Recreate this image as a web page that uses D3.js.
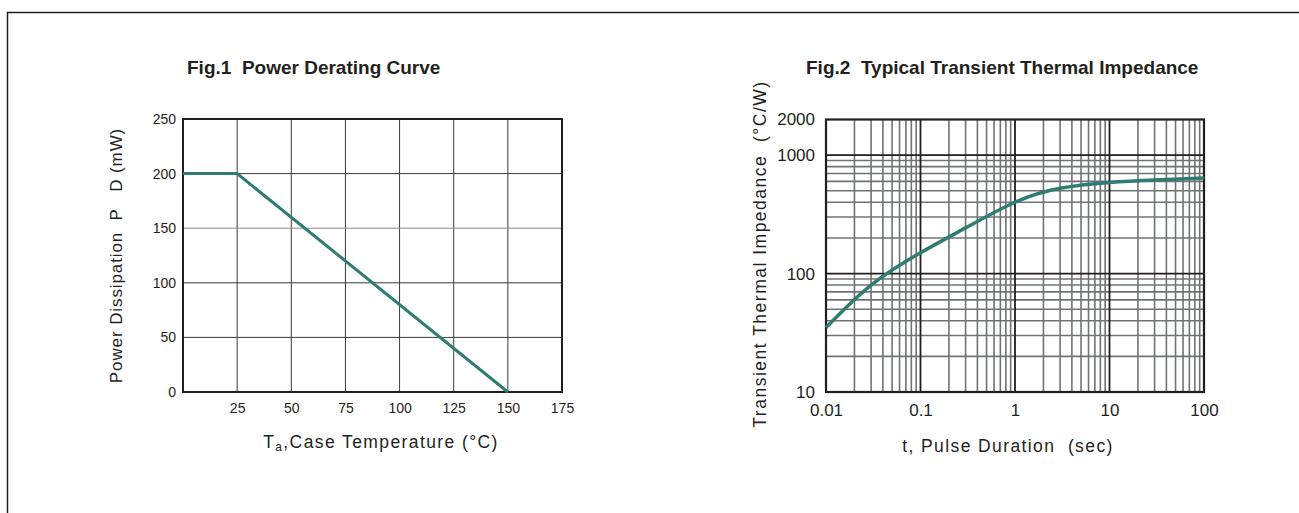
<!DOCTYPE html>
<html>
<head>
<meta charset="utf-8">
<script src="https://cdn.jsdelivr.net/npm/d3@7"></script>
<style>
  html, body { margin: 0; padding: 0; background: #fff; }
  svg { display: block; font-family: "Liberation Sans", Arial, sans-serif; }
</style>
</head>
<body>
<svg id="chart" width="1299" height="513"></svg>
<script>
// Fig.1 – power derating
const derateTemp = [0, 25, 150];
const deratePower = [200, 200, 0];
const fig1XTicks = [25, 50, 75, 100, 125, 150, 175];
const fig1YTicks = [0, 50, 100, 150, 200, 250];

// Fig.2 – transient thermal impedance
const pulseTime = [0.01, 0.03, 0.1, 0.3, 1, 3, 10, 30, 100];
const impedance = [35, 80, 150, 243, 400, 525, 588, 617, 640];
const fig2XTicks = [0.01, 0.1, 1, 10, 100];
const fig2YTicks = [10, 100, 1000, 2000];

const curveColor = '#2f7c73';
const frameColor = '#231d1c';
const textColor = '#231f20';

const svg = d3.select('#chart');

// page frame (top + left edge)
svg.append('path')
  .attr('d', 'M7.5,513 V12.5 H1299')
  .attr('fill', 'none')
  .attr('stroke', frameColor)
  .attr('stroke-width', 1.5);

// ---------- Fig.1 ----------
{
  const x = d3.scaleLinear().domain([0, 175]).range([183, 562]);
  const y = d3.scaleLinear().domain([0, 250]).range([392, 119]);
  const g = svg.append('g');

  g.append('text')
    .attr('x', 187).attr('y', 74)
    .attr('font-size', 19).attr('font-weight', 'bold')
    .attr('fill', textColor)
    .attr('xml:space', 'preserve')
    .text('Fig.1  Power Derating Curve');

  // grid
  g.selectAll('.vgrid').data(fig1XTicks.slice(0, -1)).join('line')
    .attr('x1', d => x(d)).attr('x2', d => x(d))
    .attr('y1', y(0)).attr('y2', y(250))
    .attr('stroke', '#3a3a3a').attr('stroke-width', 1);
  g.selectAll('.hgrid').data(fig1YTicks.slice(1, -1)).join('line')
    .attr('x1', x(0)).attr('x2', x(175))
    .attr('y1', d => y(d)).attr('y2', d => y(d))
    .attr('stroke', d => d === 150 ? '#8a8a8a' : '#3a3a3a').attr('stroke-width', 1);

  g.append('rect')
    .attr('x', x(0)).attr('y', y(250))
    .attr('width', x(175) - x(0)).attr('height', y(0) - y(250))
    .attr('fill', 'none').attr('stroke', frameColor).attr('stroke-width', 2);

  const xAxis = g.append('g')
    .attr('transform', `translate(0,${y(0)})`)
    .call(d3.axisBottom(x).tickValues(fig1XTicks).tickSize(0).tickPadding(11));
  xAxis.select('.domain').remove();
  xAxis.selectAll('text').attr('font-size', 14).attr('fill', textColor);

  const yAxis = g.append('g')
    .attr('transform', `translate(${x(0)},0)`)
    .call(d3.axisLeft(y).tickValues(fig1YTicks).tickSize(0).tickPadding(7));
  yAxis.select('.domain').remove();
  yAxis.selectAll('text').attr('font-size', 14).attr('fill', textColor);

  const line = d3.line().x((d, i) => x(derateTemp[i])).y(d => y(d));
  g.append('path')
    .datum(deratePower)
    .attr('d', line)
    .attr('fill', 'none')
    .attr('stroke', curveColor)
    .attr('stroke-width', 3);

  g.append('text')
    .attr('transform', `translate(122,${(y(0) + y(250)) / 2}) rotate(-90)`)
    .attr('text-anchor', 'middle')
    .attr('font-size', 17).attr('letter-spacing', 0.9).attr('fill', textColor)
    .attr('xml:space', 'preserve')
    .text('Power Dissipation  P   D (mW)');

  const xt = g.append('text')
    .attr('x', 381).attr('y', 448)
    .attr('text-anchor', 'middle')
    .attr('font-size', 17.5).attr('letter-spacing', 1.4).attr('fill', textColor);
  xt.append('tspan').text('T');
  xt.append('tspan').attr('font-size', 12).attr('dy', 3).text('a');
  xt.append('tspan').attr('dy', -3).text(',Case Temperature (°C)');
}

// ---------- Fig.2 ----------
{
  const x = d3.scaleLog().domain([0.01, 100]).range([826, 1204]);
  const y = d3.scaleLog().domain([10, 2000]).range([392, 119.5]);
  const g = svg.append('g');

  g.append('text')
    .attr('x', 806).attr('y', 74)
    .attr('font-size', 19).attr('font-weight', 'bold')
    .attr('fill', textColor)
    .attr('xml:space', 'preserve')
    .text('Fig.2  Typical Transient Thermal Impedance');

  const xMinor = [];
  for (let e = -2; e < 2; e++) for (let m = 2; m <= 9; m++) xMinor.push(m * Math.pow(10, e));
  const yMinor = [];
  for (let e = 1; e < 3; e++) for (let m = 2; m <= 9; m++) yMinor.push(m * Math.pow(10, e));

  g.selectAll('.vminor').data(xMinor).join('line')
    .attr('x1', d => x(d)).attr('x2', d => x(d))
    .attr('y1', y(10)).attr('y2', y(2000))
    .attr('stroke', '#6f7472').attr('stroke-width', 1.6);
  g.selectAll('.hminor').data(yMinor).join('line')
    .attr('x1', x(0.01)).attr('x2', x(100))
    .attr('y1', d => y(d)).attr('y2', d => y(d))
    .attr('stroke', '#6f7472').attr('stroke-width', 1.6);
  g.selectAll('.vmajor').data([0.1, 1, 10]).join('line')
    .attr('x1', d => x(d)).attr('x2', d => x(d))
    .attr('y1', y(10)).attr('y2', y(2000))
    .attr('stroke', frameColor).attr('stroke-width', 1.8);
  g.selectAll('.hmajor').data([100, 1000]).join('line')
    .attr('x1', x(0.01)).attr('x2', x(100))
    .attr('y1', d => y(d)).attr('y2', d => y(d))
    .attr('stroke', frameColor).attr('stroke-width', 1.8);

  g.append('rect')
    .attr('x', x(0.01)).attr('y', y(2000))
    .attr('width', x(100) - x(0.01)).attr('height', y(10) - y(2000))
    .attr('fill', 'none').attr('stroke', frameColor).attr('stroke-width', 2.2);

  const line = d3.line()
    .x((d, i) => x(pulseTime[i])).y(d => y(d))
    .curve(d3.curveNatural);
  g.append('path')
    .datum(impedance)
    .attr('d', line)
    .attr('fill', 'none')
    .attr('stroke', curveColor)
    .attr('stroke-width', 3.5);

  const xAxis = g.append('g')
    .attr('transform', `translate(0,${y(10)})`)
    .call(d3.axisBottom(x).tickValues(fig2XTicks).tickFormat(d => String(d)).tickSize(0).tickPadding(12));
  xAxis.select('.domain').remove();
  xAxis.selectAll('text').attr('font-size', 17).attr('fill', textColor);

  const yAxis = g.append('g')
    .attr('transform', `translate(${x(0.01)},0)`)
    .call(d3.axisLeft(y).tickValues(fig2YTicks).tickFormat(d => String(d)).tickSize(0).tickPadding(11));
  yAxis.select('.domain').remove();
  yAxis.selectAll('text').attr('font-size', 17).attr('fill', textColor);

  g.append('text')
    .attr('transform', `translate(766,254) rotate(-90)`)
    .attr('text-anchor', 'middle')
    .attr('font-size', 17.5).attr('letter-spacing', 1.5).attr('fill', textColor)
    .attr('xml:space', 'preserve')
    .text('Transient Thermal Impedance  (°C/W)');

  g.append('text')
    .attr('x', 1008).attr('y', 452)
    .attr('text-anchor', 'middle')
    .attr('font-size', 17.5).attr('letter-spacing', 1.4).attr('fill', textColor)
    .attr('xml:space', 'preserve')
    .text('t, Pulse Duration  (sec)');
}
</script>
</body>
</html>
